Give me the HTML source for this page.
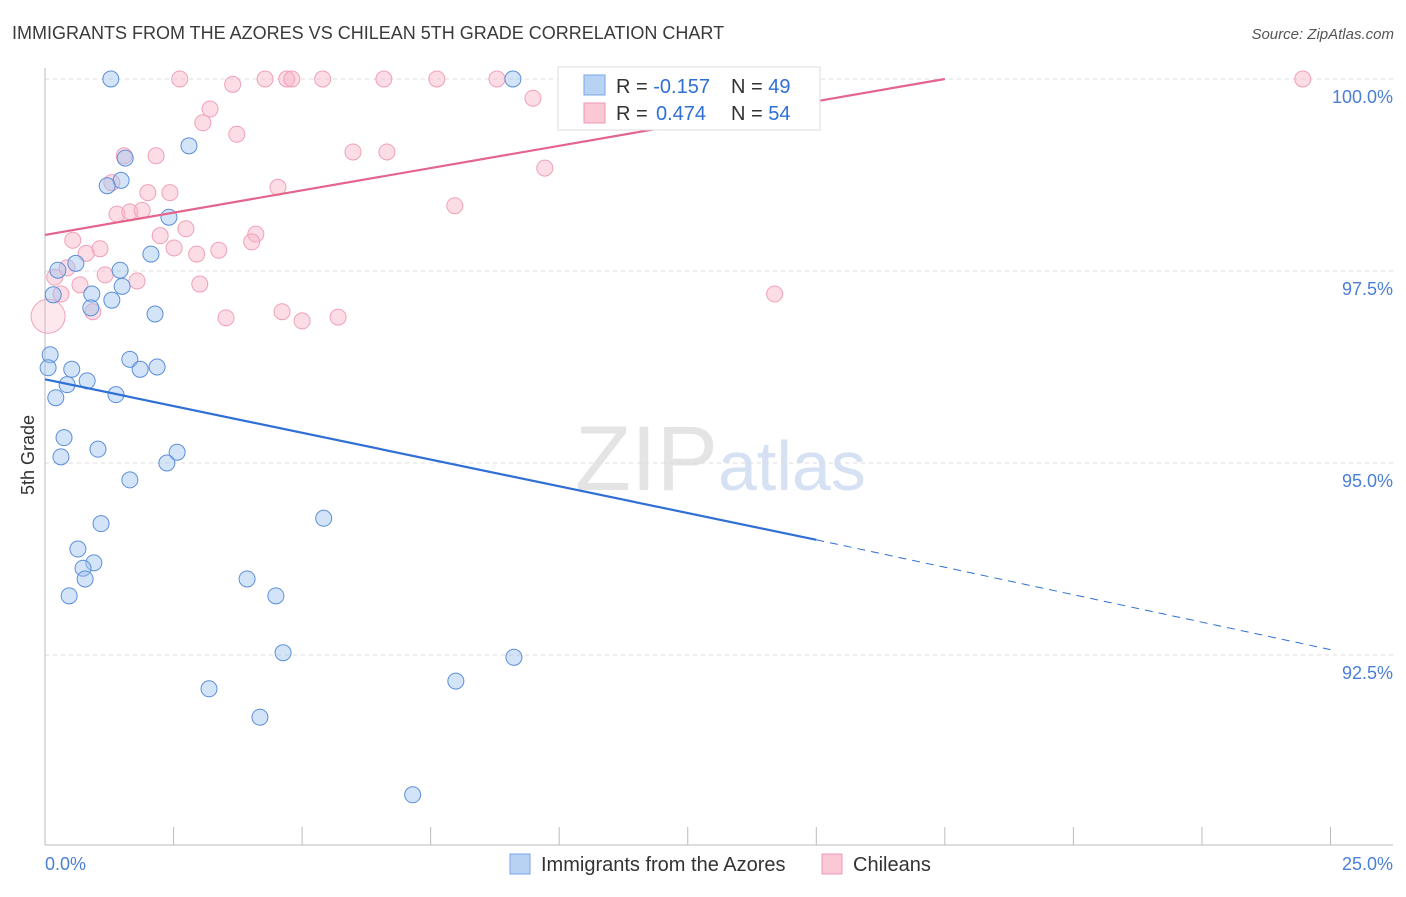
<!DOCTYPE html>
<html><head><meta charset="utf-8"><style>
body{margin:0;background:#fff;font-family:"Liberation Sans",sans-serif;}
svg text{font-family:"Liberation Sans",sans-serif;}
</style></head><body>
<svg id="chart" width="1406" height="892" xmlns="http://www.w3.org/2000/svg">
<text x="12" y="39" font-size="18" fill="#3a3a3a">IMMIGRANTS FROM THE AZORES VS CHILEAN 5TH GRADE CORRELATION CHART</text>
<text x="1394" y="39" font-size="15" fill="#555" text-anchor="end" font-style="italic">Source: ZipAtlas.com</text>
<text x="718" y="490" font-size="92" fill="#e4e4e4" text-anchor="end" font-family="Liberation Serif">ZIP</text>
<text x="718" y="490" font-size="70" fill="#d6e2f4">atlas</text>
<g id="grid"></g><g id="axes"></g><g id="pts"></g><g id="lines"></g>
<text x="34" y="455" font-size="18" fill="#333" text-anchor="middle" transform="rotate(-90 34 455)">5th Grade</text>
<g>
<rect x="558" y="67" width="262" height="63" fill="#fff" stroke="#ddd"/>
<rect x="584" y="75" width="21" height="20" fill="#b8d2f4" stroke="#7aa6e6"/>
<rect x="584" y="103" width="21" height="20" fill="#fbc8d6" stroke="#f097b2"/>
<text x="616" y="93" font-size="20" fill="#333">R = <tspan fill="#2f6fd6">-0.157</tspan></text>
<text x="731" y="93" font-size="20" fill="#333">N = <tspan fill="#2f6fd6">49</tspan></text>
<text x="616" y="120" font-size="20" fill="#333">R = <tspan fill="#2f6fd6" x="656">0.474</tspan></text>
<text x="731" y="120" font-size="20" fill="#333">N = <tspan fill="#2f6fd6">54</tspan></text>
</g>
<g>
<rect x="510" y="854" width="20" height="20" fill="#b8d2f4" stroke="#7aa6e6"/>
<text x="541" y="871" font-size="20" fill="#333">Immigrants from the Azores</text>
<rect x="822" y="854" width="20" height="20" fill="#fbc8d6" stroke="#f097b2"/>
<text x="853" y="871" font-size="20" fill="#333">Chileans</text>
</g>
</svg>
<script>
const yTicks=[100,97.5,95,92.5];
const yTickLabels=["100.0%","97.5%","95.0%","92.5%"];
const xTicks=[0,2.5,5,7.5,10,12.5,15,17.5,20,22.5,25];
const azoresX=[1.28,9.10,2.80,1.56,1.48,1.21,2.41,2.06,0.60,0.25,1.46,0.16,0.91,1.30,1.50,0.89,2.14,0.10,0.06,1.65,1.85,2.18,0.52,0.82,0.43,0.21,1.38,0.37,0.31,1.03,2.57,2.37,1.65,1.09,5.42,0.64,0.95,0.74,0.78,0.47,3.93,4.49,4.63,9.12,7.99,3.19,4.18,7.15];
const azoresY=[100,100,99.13,98.97,98.68,98.61,98.20,97.72,97.60,97.51,97.51,97.19,97.20,97.12,97.30,97.02,96.94,96.41,96.24,96.35,96.22,96.25,96.22,96.07,96.02,95.85,95.89,95.33,95.08,95.18,95.14,95.00,94.78,94.21,94.28,93.88,93.70,93.63,93.49,93.27,93.49,93.27,92.53,92.47,92.16,92.06,91.69,90.68];
const chileX=[2.62,3.65,4.28,4.70,4.80,5.40,6.59,7.62,8.79,12.31,13.12,14.02,24.46,9.49,3.21,3.07,3.73,1.54,2.16,5.99,6.65,9.72,1.30,4.53,2.00,2.43,7.97,1.40,1.65,1.89,2.24,2.74,4.10,4.02,0.54,1.07,2.51,2.95,3.38,0.80,0.43,0.19,1.17,1.79,3.01,0.68,0.31,0.93,3.52,4.61,5.00,5.70,14.19,0.06];
const chileY=[100,99.93,100,100,100,100,100,100,100,100,100,100,100,99.75,99.61,99.43,99.28,99.00,99.00,99.05,99.05,98.84,98.65,98.59,98.52,98.52,98.35,98.24,98.27,98.29,97.96,98.05,97.98,97.88,97.90,97.79,97.80,97.72,97.77,97.73,97.54,97.42,97.45,97.37,97.33,97.32,97.20,96.97,96.89,96.97,96.85,96.90,97.20,96.91];
const azoresTrend=[[0,96.09],[15,94.00],[25,92.57]];
const chileTrend=[[0,97.97],[17.5,100]];
const NS="http://www.w3.org/2000/svg";
const X=v=>45+v*51.42;
const Y=v=>79+(100-v)*76.8;
function mk(parent,tag,attrs){const e=document.createElementNS(NS,tag);for(const k in attrs)e.setAttribute(k,attrs[k]);document.getElementById(parent).appendChild(e);return e;}
yTicks.forEach((t,i)=>{
 const l=mk('grid','line',{x1:45,x2:1393,y1:Y(t),y2:Y(t),stroke:'#ddd','stroke-dasharray':'4,4'});
 
 
 const tx=mk('axes','text',{x:1393,y:Y(t)+24,'font-size':18,fill:'#4a7fd4','text-anchor':'end'});
 tx.textContent=yTickLabels[i];
 
 
});
const ax=mk('axes','line',{x1:45,x2:1393,y1:845,y2:845,stroke:'#bbb'});


const ay=mk('axes','line',{x1:45,x2:45,y1:68,y2:845,stroke:'#bbb'});


xTicks.forEach(t=>{
 const l=mk('axes','line',{x1:X(t),x2:X(t),y1:827,y2:845,stroke:'#bbb'});
 
 
});
const xl0=mk('axes','text',{x:45,y:870,'font-size':18,fill:'#4a7fd4'});xl0.textContent='0.0%';


const xl1=mk('axes','text',{x:1393,y:870,'font-size':18,fill:'#4a7fd4','text-anchor':'end'});xl1.textContent='25.0%';


chileX.forEach((x,i)=>{
 const big=i===chileX.length-1;
 const c=mk('pts','circle',{cx:X(x),cy:Y(chileY[i]),r:big?17:8,fill:big?'rgba(248,180,200,0.3)':'rgba(248,180,200,0.45)',stroke:'#f0a0b8','stroke-width':1});
 
 
});
azoresX.forEach((x,i)=>{
 const c=mk('pts','circle',{cx:X(x),cy:Y(azoresY[i]),r:8,fill:'rgba(160,196,240,0.45)',stroke:'#5c8fd8','stroke-width':1});
 
 
});
const b1=mk('lines','line',{x1:X(azoresTrend[0][0]),y1:Y(azoresTrend[0][1]),x2:X(azoresTrend[1][0]),y2:Y(azoresTrend[1][1]),stroke:'#2f6fd6','stroke-width':2.2});


const b2=mk('lines','line',{x1:X(azoresTrend[1][0]),y1:Y(azoresTrend[1][1]),x2:X(azoresTrend[2][0]),y2:Y(azoresTrend[2][1]),stroke:'#2f6fd6','stroke-width':1,'stroke-dasharray':'8,6'});


const p1=mk('lines','line',{x1:X(chileTrend[0][0]),y1:Y(chileTrend[0][1]),x2:X(chileTrend[1][0]),y2:Y(chileTrend[1][1]),stroke:'#e4648c','stroke-width':2.2});


</script>
</body></html>
